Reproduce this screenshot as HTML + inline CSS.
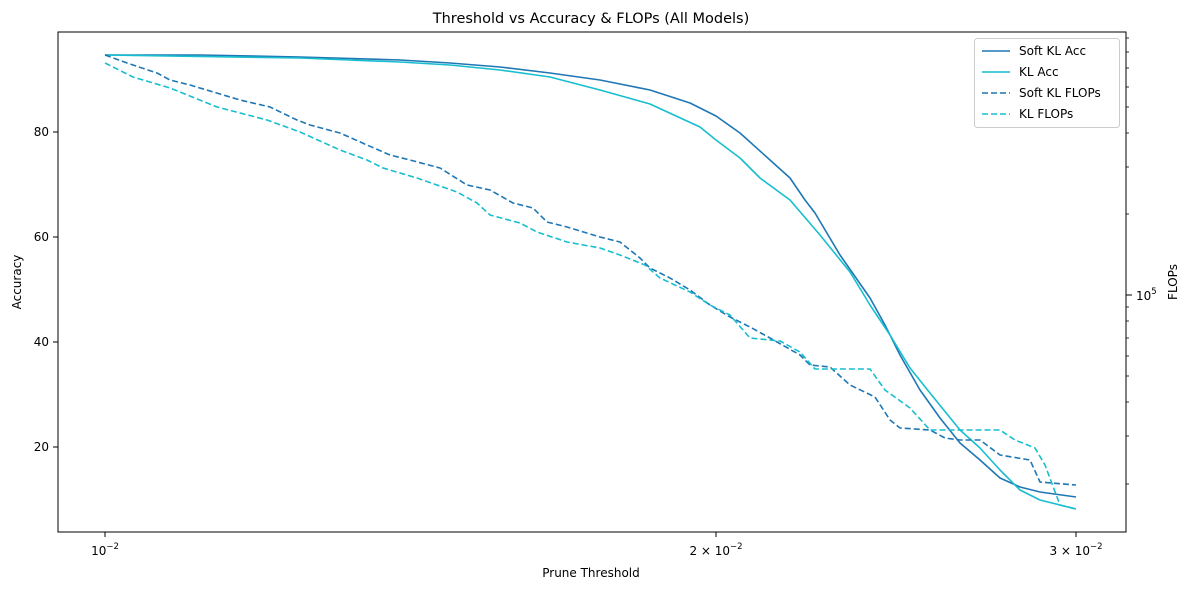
<!DOCTYPE html>
<html><head><meta charset="utf-8"><style>body{margin:0;background:#fff}svg{display:block;font-family:"DejaVu Sans","Liberation Sans",sans-serif}</style></head><body>
<svg width="1189" height="590" xmlns="http://www.w3.org/2000/svg">
<rect width="1189" height="590" fill="#fff"/>
<text x="591" y="23" font-size="14.5" text-anchor="middle">Threshold vs Accuracy &amp; FLOPs (All Models)</text>
<g fill="none" stroke-width="1.6" stroke-linejoin="round">
<polyline stroke="#1f77b4" points="105,55 200,55 300,57 400,60 450,63 500,67 550,73 600,80 650,90 690,103 716,116 740,133 770,160 790,178 805,200 815,213 840,255 870,298 885,325 900,355 920,390 940,418 960,443 980,460 1000,478 1020,487 1040,492 1076,497"/>
<polyline stroke="#17becf" points="105,55 300,58 400,62 450,65 500,70 550,77 600,90 650,104 700,127 716,140 740,158 760,178 790,200 820,235 850,272 870,305 890,335 910,368 930,393 960,430 980,448 1000,470 1020,490 1040,500 1076,509"/>
<polyline stroke="#1f77b4" stroke-dasharray="6,3" points="105,55 127,63 157,73 170,80 190,85 240,100 270,107 297,120 310,125 340,133 367,145 390,155 410,160 440,168 467,185 490,190 513,203 533,208 547,222 567,227 600,237 620,242 640,258 650,268 670,278 690,290 710,305 730,317 750,327 770,338 800,355 810,365 830,367 850,385 875,397 890,420 900,428 930,430 945,438 960,440 980,440 1000,455 1030,460 1040,482 1076,485"/>
<polyline stroke="#17becf" stroke-dasharray="6,3" points="105,63 133,77 170,88 217,107 267,120 300,132 340,150 367,160 383,168 417,178 457,192 477,203 490,215 520,223 537,232 567,242 600,248 620,255 645,265 660,278 690,292 710,305 730,315 750,338 780,341 800,352 815,369 870,369 885,390 910,408 930,430 1000,430 1015,440 1035,448 1045,465 1060,505 1076,509"/>
</g>
<rect x="58" y="32" width="1068" height="500" fill="none" stroke="#000" stroke-width="1"/>
<g stroke="#000" stroke-width="1">
<line x1="105" y1="532" x2="105" y2="537"/><line x1="716" y1="532" x2="716" y2="537"/><line x1="1076" y1="532" x2="1076" y2="537"/>
<line x1="53" y1="447" x2="58" y2="447"/><line x1="53" y1="342" x2="58" y2="342"/><line x1="53" y1="237" x2="58" y2="237"/><line x1="53" y1="132" x2="58" y2="132"/>
<line x1="1126" y1="295" x2="1132" y2="295"/>
</g>
<g stroke="#000" stroke-width="0.8">
<line x1="1126" y1="38" x2="1129" y2="38"/><line x1="1126" y1="52" x2="1129" y2="52"/><line x1="1126" y1="68" x2="1129" y2="68"/><line x1="1126" y1="87" x2="1129" y2="87"/><line x1="1126" y1="107" x2="1129" y2="107"/><line x1="1126" y1="133" x2="1129" y2="133"/><line x1="1126" y1="167" x2="1129" y2="167"/><line x1="1126" y1="214" x2="1129" y2="214"/><line x1="1126" y1="307" x2="1129" y2="307"/><line x1="1126" y1="321" x2="1129" y2="321"/><line x1="1126" y1="338" x2="1129" y2="338"/><line x1="1126" y1="356" x2="1129" y2="356"/><line x1="1126" y1="376" x2="1129" y2="376"/><line x1="1126" y1="402" x2="1129" y2="402"/><line x1="1126" y1="436" x2="1129" y2="436"/><line x1="1126" y1="484" x2="1129" y2="484"/>
</g>
<g font-size="12" text-anchor="end">
<text x="49" y="451">20</text><text x="49" y="346">40</text><text x="49" y="241">60</text><text x="49" y="136">80</text>
</g>
<g font-size="12" text-anchor="middle">
<text x="105" y="555">10<tspan font-size="8.5" dy="-6">−2</tspan></text>
<text x="716" y="555">2 × 10<tspan font-size="8.5" dy="-6">−2</tspan></text>
<text x="1076" y="555">3 × 10<tspan font-size="8.5" dy="-6">−2</tspan></text>
<text x="591" y="577">Prune Threshold</text>
</g>
<text x="1136" y="300" font-size="12">10<tspan font-size="8.5" dy="-6">5</tspan></text>
<text transform="translate(21,282) rotate(-90)" font-size="12" text-anchor="middle">Accuracy</text>
<text transform="translate(1177,282) rotate(-90)" font-size="12" text-anchor="middle">FLOPs</text>
<rect x="974.5" y="38.5" width="145" height="89" rx="3" fill="#fff" fill-opacity="0.85" stroke="#ccc"/>
<g stroke-width="1.6">
<line x1="982" y1="51" x2="1010" y2="51" stroke="#1f77b4"/>
<line x1="982" y1="72" x2="1010" y2="72" stroke="#17becf"/>
<line x1="982" y1="93" x2="1010" y2="93" stroke="#1f77b4" stroke-dasharray="6,3"/>
<line x1="982" y1="114" x2="1010" y2="114" stroke="#17becf" stroke-dasharray="6,3"/>
</g>
<g font-size="12">
<text x="1019" y="55">Soft KL Acc</text><text x="1019" y="76">KL Acc</text><text x="1019" y="97">Soft KL FLOPs</text><text x="1019" y="118">KL FLOPs</text>
</g>
</svg>
</body></html>
